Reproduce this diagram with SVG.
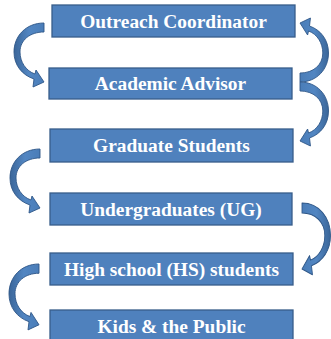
<svg xmlns="http://www.w3.org/2000/svg" width="331" height="339" viewBox="0 0 331 339">
  <style>
    .box { fill: #4F81BD; stroke: #385D8A; stroke-width: 1.3; }
    .label { font-family: "Liberation Serif", "Times New Roman", serif; font-weight: bold; font-size: 19.4px; fill: #FFFFFF; text-anchor: middle; }
    .arrow { fill: url(#arrowShade); stroke: #2E5687; stroke-width: 0.9; stroke-linejoin: round; }
  </style>
  <defs>
    <linearGradient id="arrowShade" x1="0" y1="0" x2="1" y2="0">
      <stop offset="0" stop-color="#3B6699"/>
      <stop offset="0.5" stop-color="#5286C2"/>
      <stop offset="1" stop-color="#4A7DB8"/>
    </linearGradient>
    <!-- curved arrow: tail at origin (outer edge), bulging to the left, head ending near (0,59) -->
    <path id="curvedArrow" class="arrow"
          d="M0,0 C-18,0 -30,13 -30,29 C-30,42 -22,52 -10,56 L-11,64 L0,59 L-8,47 L-9,51 C-18,48 -24,39 -24,29 C-24,17 -14,9 0,9 Z"/>
  </defs>

  <g id="connectors">
    <use href="#curvedArrow" transform="translate(44,23)"/>
    <use href="#curvedArrow" transform="translate(300,82) rotate(180) scale(0.95,1)"/>
    <use href="#curvedArrow" transform="translate(300,82) scale(-0.95,1)"/>
    <use href="#curvedArrow" transform="translate(40,149)"/>
    <use href="#curvedArrow" transform="translate(302,203) scale(-0.95,1.12)"/>
    <use href="#curvedArrow" transform="translate(39,264) scale(1,1.03)"/>
  </g>

  <g id="outreach-coordinator">
    <rect class="box" x="52" y="5" width="243" height="32"/>
    <text class="label" x="173.5" y="28">Outreach Coordinator</text>
  </g>
  <g id="academic-advisor">
    <rect class="box" x="49" y="68" width="243" height="31"/>
    <text class="label" x="170.5" y="90">Academic Advisor</text>
  </g>
  <g id="graduate-students">
    <rect class="box" x="50" y="129" width="243" height="33"/>
    <text class="label" x="171.5" y="152">Graduate Students</text>
  </g>
  <g id="undergraduates">
    <rect class="box" x="50" y="193" width="242" height="32"/>
    <text class="label" x="171" y="216">Undergraduates (UG)</text>
  </g>
  <g id="high-school-students">
    <rect class="box" x="50" y="253" width="243" height="32"/>
    <text class="label" x="171.5" y="276">High school (HS) students</text>
  </g>
  <g id="kids-and-public">
    <rect class="box" x="50" y="310" width="243" height="40"/>
    <text class="label" x="171.5" y="333">Kids &amp; the Public</text>
  </g>
</svg>
